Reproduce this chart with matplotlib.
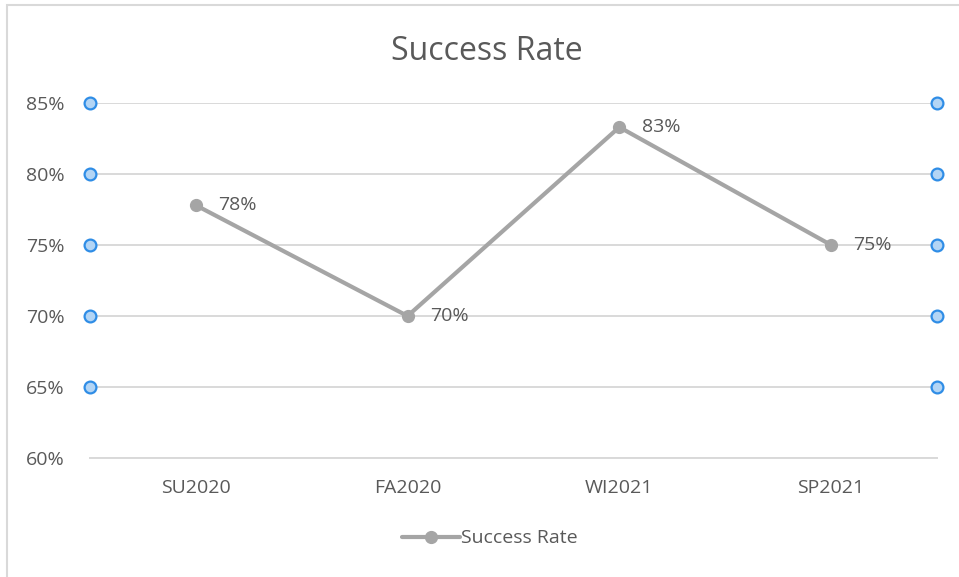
import matplotlib.pyplot as plt
from matplotlib.patches import Rectangle
from matplotlib.ticker import PercentFormatter

terms = ["SU2020", "FA2020", "WI2021", "SP2021"]
success_rate = [0.778, 0.700, 0.833, 0.750]
y_ticks = [0.60, 0.65, 0.70, 0.75, 0.80, 0.85]

text_gray = "#595959"
line_gray = "#a5a5a5"
grid_gray = "#d9d9d9"

plt.rcParams["font.family"] = ["Open Sans", "DejaVu Sans"]

fig = plt.figure(figsize=(9.59, 5.77), dpi=100)
ax = fig.add_axes([0.0938, 0.2062, 0.8832, 0.6153])

# outer chart frame (runs off the right and bottom edges)
fig.patches.append(Rectangle((7 / 959, -0.05), 1.1, 1 - 5 / 577 + 0.05,
                             transform=fig.transFigure, fill=False,
                             edgecolor="#d9d9d9", linewidth=1.5))

x = list(range(len(terms)))
ax.plot(x, success_rate, color=line_gray, linewidth=3, marker="o",
        markersize=8.5, label="Success Rate", solid_capstyle="round", zorder=3)

for xi, v in zip(x, success_rate):
    ax.annotate(f"{v:.0%}", (xi, v), xytext=(16, 0), textcoords="offset points",
                va="center", ha="left", fontsize=14, color=text_gray)

ax.set_xlim(-0.5, len(terms) - 0.5)
ax.set_ylim(y_ticks[0], y_ticks[-1])
ax.set_yticks(y_ticks)
ax.yaxis.set_major_formatter(PercentFormatter(1.0, decimals=0))
ax.set_xticks(x)
ax.set_xticklabels(terms)
ax.tick_params(axis="both", length=0, labelsize=14, labelcolor=text_gray)
ax.tick_params(axis="y", pad=18)
ax.tick_params(axis="x", pad=15)

ax.grid(axis="y", color=grid_gray, linewidth=1.4)
ax.set_axisbelow(True)
for side in ["top", "right", "left"]:
    ax.spines[side].set_visible(False)
ax.spines["bottom"].set_color(grid_gray)
ax.spines["bottom"].set_linewidth(1.4)

# selection handles at the ends of the gridlines
for yv in y_ticks[1:]:
    for xe in (0, 1):
        ax.plot(xe, yv, marker="o", markersize=8.5, markerfacecolor="#b3d5f5",
                markeredgecolor="#2f8de6", markeredgewidth=1.6,
                transform=ax.get_yaxis_transform(), clip_on=False, zorder=5)

fig.text(0.508, 0.911, "Success Rate", ha="center", va="center",
         fontsize=23, color=text_gray)

fig.legend(loc="center", bbox_to_anchor=(0.511, 0.067), frameon=False,
           fontsize=14, labelcolor=text_gray, handlelength=3.0,
           handletextpad=0.05)

fig.savefig("out.png", dpi=100)
